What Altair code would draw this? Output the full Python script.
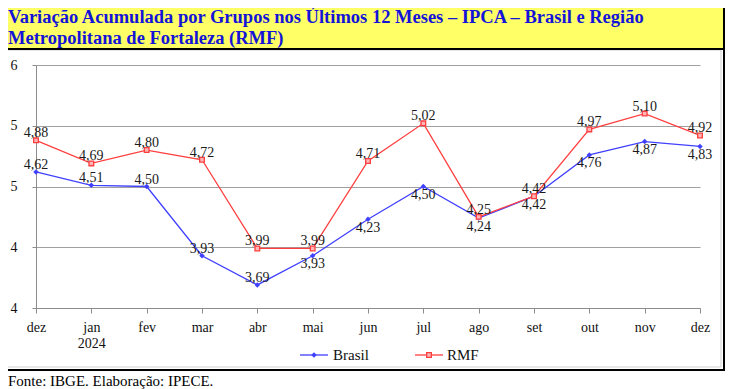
import json
import altair as alt
import pandas as pd

# ---------------- data ----------------
months = ["dez", "jan", "fev", "mar", "abr", "mai", "jun", "jul", "ago", "set", "out", "nov", "dez"]
year_label = "2024"
brasil = [4.62, 4.51, 4.50, 3.93, 3.69, 3.93, 4.23, 4.50, 4.24, 4.42, 4.76, 4.87, 4.83]
rmf = [4.88, 4.69, 4.80, 4.72, 3.99, 3.99, 4.71, 5.02, 4.25, 4.42, 4.97, 5.10, 4.92]
series_names = ["Brasil", "RMF"]
y_ticks = [3.5, 4.0, 4.5, 5.0, 5.5]
title_lines = [
    "Variação Acumulada por Grupos nos Últimos 12 Meses – IPCA – Brasil e Região",
    "Metropolitana de Fortaleza (RMF)",
]
source_note = "Fonte: IBGE. Elaboração: IPECE."

# ---------------- styles ----------------
BLUE = "#4040ff"
RED = "#ff3f3f"
SERIF = "Liberation Serif"

rows = []
for i, m in enumerate(months):
    rows.append({"idx": i, "month": m, "series": series_names[0], "value": brasil[i]})
    rows.append({"idx": i, "month": m, "series": series_names[1], "value": rmf[i]})
df = pd.DataFrame(rows)

label_expr = ("datum.value == 1 ? ['jan', '" + year_label + "'] : "
              + json.dumps(months) + "[datum.value]")

x_enc = alt.X("idx:Q",
              scale=alt.Scale(domain=[0, len(months) - 1], nice=False, zero=False),
              axis=alt.Axis(values=list(range(len(months))), labelExpr=label_expr,
                            title=None, grid=False, labelFlush=False, labelOverlap=False,
                            labelFont=SERIF, labelFontSize=14, labelColor="#111111",
                            labelPadding=7, labelLineHeight=16,
                            domainColor="#8c8c8c", tickColor="#8c8c8c", tickSize=5))
y_enc = alt.Y("value:Q",
              scale=alt.Scale(domain=[3.5, 5.5], nice=False, zero=False),
              axis=alt.Axis(values=y_ticks, format=".0f", title=None, grid=True,
                            gridColor="#a0a0a0", gridWidth=1, labelFlush=False,
                            labelFont=SERIF, labelFontSize=14, labelColor="#111111",
                            labelPadding=15, domainColor="#8c8c8c", tickColor="#8c8c8c",
                            tickSize=4))

base = alt.Chart(df).encode(x=x_enc, y=y_enc).transform_calculate(
    lab="replace(format(datum.value, '.2f'), '.', ',')")

b = base.transform_filter(alt.datum.series == series_names[0])
r = base.transform_filter(alt.datum.series == series_names[1])

b_line = b.mark_line(color=BLUE, strokeWidth=1.3)
r_line = r.mark_line(color=RED, strokeWidth=1.3)
b_pts = b.mark_point(shape="diamond", filled=True, size=30, color=BLUE, opacity=1)
r_pts = r.mark_square(size=22, fill="#ffb5b5", stroke=RED, strokeWidth=1.3, opacity=1)

txt = dict(font=SERIF, fontSize=14, color="#1a1a1a", baseline="alphabetic")
r_lab = r.mark_text(dy=-3, **txt).encode(text="lab:N")
b_lab_up = b.transform_filter(alt.datum.idx <= 4).mark_text(dy=-3, **txt).encode(text="lab:N")
b_lab_dn = b.transform_filter(alt.datum.idx > 4).mark_text(dy=12.5, **txt).encode(text="lab:N")

one = alt.Data(values=[{"k": 1}])

outer = alt.Chart(one).mark_rect(fillOpacity=0, stroke="black", strokeWidth=2).encode(
    x=alt.value(-40), x2=alt.value(688), y=alt.value(-70), y2=alt.value(305))
inner = alt.Chart(one).mark_rect(fillOpacity=0, stroke="#cfcfcf", strokeWidth=1).encode(
    x=alt.value(-40), x2=alt.value(685), y=alt.value(-15), y2=alt.value(302))
title_box = alt.Chart(one).mark_rect(fill="#ffff66", stroke="black", strokeWidth=2).encode(
    x=alt.value(-40), x2=alt.value(688), y=alt.value(-66), y2=alt.value(-16))

tstyle = dict(font=SERIF, fontSize=18.5, fontWeight="bold", color="#1414d8",
              align="left", baseline="alphabetic")
title1 = alt.Chart(one).mark_text(**tstyle).encode(
    x=alt.value(-28), y=alt.value(-42), text=alt.value(title_lines[0]))
title2 = alt.Chart(one).mark_text(**tstyle).encode(
    x=alt.value(-28), y=alt.value(-21), text=alt.value(title_lines[1]))

footer = alt.Chart(one).mark_text(font=SERIF, fontSize=15, color="black", align="left",
                                  baseline="alphabetic").encode(
    x=alt.value(-28), y=alt.value(321), text=alt.value(source_note))

# legend (manual)
lg_y = 290
leg_b_line = alt.Chart(one).mark_rule(color=BLUE, strokeWidth=1.3).encode(
    x=alt.value(264), x2=alt.value(292), y=alt.value(lg_y))
leg_b_pt = alt.Chart(one).mark_point(shape="diamond", filled=True, size=30, color=BLUE,
                                     opacity=1).encode(x=alt.value(278), y=alt.value(lg_y))
leg_b_txt = alt.Chart(one).mark_text(font=SERIF, fontSize=15, color="#111111", align="left",
                                     baseline="middle").encode(
    x=alt.value(297), y=alt.value(lg_y), text=alt.value(series_names[0]))
leg_r_line = alt.Chart(one).mark_rule(color=RED, strokeWidth=1.3).encode(
    x=alt.value(379), x2=alt.value(407), y=alt.value(lg_y))
leg_r_pt = alt.Chart(one).mark_square(size=22, fill="#ffb5b5", stroke=RED, strokeWidth=1.3,
                                      opacity=1).encode(x=alt.value(393), y=alt.value(lg_y))
leg_r_txt = alt.Chart(one).mark_text(font=SERIF, fontSize=15, color="#111111", align="left",
                                     baseline="middle").encode(
    x=alt.value(411), y=alt.value(lg_y), text=alt.value(series_names[1]))

chart = alt.layer(
    b_line, outer, inner, title_box, title1, title2, footer,
    r_line, b_pts, r_pts, r_lab, b_lab_up, b_lab_dn,
    leg_b_line, leg_b_pt, leg_b_txt, leg_r_line, leg_r_pt, leg_r_txt,
).properties(
    width=664, height=243,
    padding={"left": 28, "top": 57, "right": 26, "bottom": 81},
    autosize=alt.AutoSizeParams(type="none"),
    background="white",
).configure_view(stroke=None)

chart.save("out.html", embed_options={"renderer": "svg", "actions": False})
